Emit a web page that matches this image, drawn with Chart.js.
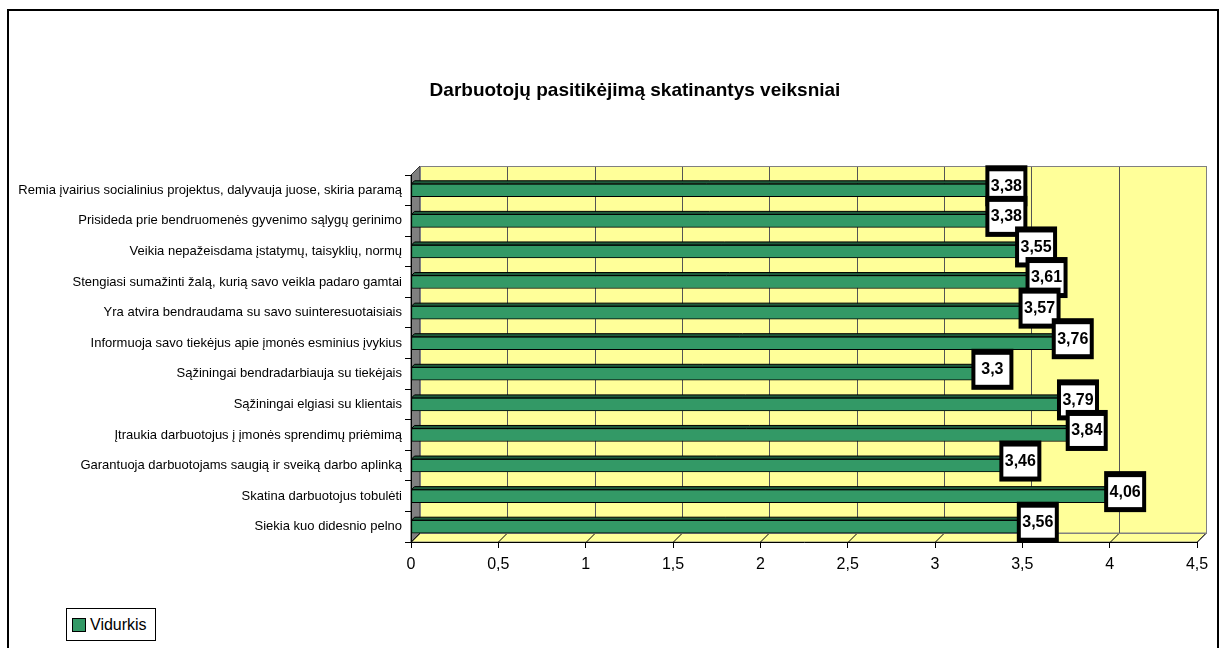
<!DOCTYPE html>
<html>
<head>
<meta charset="utf-8">
<script src="https://cdn.jsdelivr.net/npm/chart.js@4"></script>
<style>
  body { margin: 0; background: #fff; }
  #wrap { position: relative; width: 1224px; height: 648px; overflow: hidden; }
  #frame { position: absolute; left: 7px; top: 9px; width: 1208px; height: 700px; border: 2px solid #000; }
  #legend { position: absolute; left: 66px; top: 608px; width: 88px; height: 31px; border: 1px solid #000;
    font: 16px "Liberation Sans", Arial, sans-serif; display: flex; align-items: center; background: #fff; }
  #legend span.sw { display: inline-block; width: 12px; height: 12px; background: #339966; border: 1px solid #000; margin: 0 4px 0 5px; }
  canvas { position: absolute; left: 0; top: 0; }
</style>
</head>
<body>
<div id="wrap">
  <div id="frame"></div>
  <canvas id="chart" width="1224" height="648"></canvas>
  <div id="legend"><span class="sw"></span>Vidurkis</div>
</div>
<script>
const chartTitle = 'Darbuotojų pasitikėjimą skatinantys veiksniai';
const categories = [
  'Remia įvairius socialinius projektus, dalyvauja juose, skiria paramą',
  'Prisideda prie bendruomenės gyvenimo sąlygų gerinimo',
  'Veikia nepažeisdama įstatymų, taisyklių, normų',
  'Stengiasi sumažinti žalą, kurią savo veikla padaro gamtai',
  'Yra atvira bendraudama su savo suinteresuotaisiais',
  'Informuoja savo tiekėjus apie įmonės esminius įvykius',
  'Sąžiningai bendradarbiauja su tiekėjais',
  'Sąžiningai elgiasi su klientais',
  'Įtraukia darbuotojus į įmonės sprendimų priėmimą',
  'Garantuoja darbuotojams saugią ir sveiką darbo aplinką',
  'Skatina darbuotojus tobulėti',
  'Siekia kuo didesnio pelno'
];
const vidurkis = [3.38, 3.38, 3.55, 3.61, 3.57, 3.76, 3.3, 3.79, 3.84, 3.46, 4.06, 3.56];
const tickValues = [0, 0.5, 1, 1.5, 2, 2.5, 3, 3.5, 4, 4.5];
const tickLabels = ['0', '0,5', '1', '1,5', '2', '2,5', '3', '3,5', '4', '4,5'];

const FONT = '"Liberation Sans", Arial, sans-serif';
const DX = 9, DY = 9; // 3d depth

// title, back wall, left wall, floor and gridlines
const wallsPlugin = {
  id: 'walls',
  beforeDraw(chart) {
    const ctx = chart.ctx;
    const a = chart.chartArea;
    const x = chart.scales.x;
    ctx.save();
    ctx.fillStyle = '#000';
    ctx.font = 'bold 19px ' + FONT;
    ctx.textAlign = 'center';
    ctx.textBaseline = 'middle';
    ctx.fillText(chartTitle, 635, 91);
    // back wall
    ctx.fillStyle = '#ffff99';
    ctx.fillRect(a.left + DX, a.top - DY, a.right - a.left, a.bottom - a.top);
    // floor
    ctx.beginPath();
    ctx.moveTo(a.left, a.bottom);
    ctx.lineTo(a.left + DX, a.bottom - DY);
    ctx.lineTo(a.right + DX, a.bottom - DY);
    ctx.lineTo(a.right, a.bottom);
    ctx.closePath();
    ctx.fill();
    ctx.strokeStyle = '#808080';
    ctx.lineWidth = 1;
    ctx.stroke();
    // left wall
    ctx.fillStyle = '#808080';
    ctx.beginPath();
    ctx.moveTo(a.left, a.top);
    ctx.lineTo(a.left + DX, a.top - DY);
    ctx.lineTo(a.left + DX, a.bottom - DY);
    ctx.lineTo(a.left, a.bottom);
    ctx.closePath();
    ctx.fill();
    ctx.strokeStyle = '#333';
    ctx.stroke();
    // gridlines on back wall + floor diagonals
    tickValues.forEach(v => {
      const px = Math.round(x.getPixelForValue(v)) + 0.5;
      ctx.strokeStyle = '#555';
      ctx.beginPath();
      ctx.moveTo(px + DX, a.top - DY);
      ctx.lineTo(px + DX, a.bottom - DY);
      ctx.stroke();
      ctx.strokeStyle = '#000';
      ctx.beginPath();
      ctx.moveTo(px, a.bottom);
      ctx.lineTo(px + DX, a.bottom - DY);
      ctx.stroke();
    });
    // back wall outline
    ctx.strokeStyle = '#808080';
    ctx.strokeRect(a.left + DX + 0.5, a.top - DY + 0.5, a.right - a.left, a.bottom - a.top);
    ctx.restore();
  }
};

// bar top face and value boxes
const barExtras = {
  id: 'barExtras',
  afterDatasetsDraw(chart) {
    const ctx = chart.ctx;
    const meta = chart.getDatasetMeta(0);
    ctx.save();
    meta.data.forEach(bar => {
      const top = bar.y - bar.height / 2;
      ctx.fillStyle = '#1f5c3d';
      ctx.strokeStyle = '#000';
      ctx.lineWidth = 1;
      ctx.beginPath();
      ctx.moveTo(bar.base, top);
      ctx.lineTo(bar.base + 3, top - 3);
      ctx.lineTo(bar.x + 3, top - 3);
      ctx.lineTo(bar.x, top);
      ctx.closePath();
      ctx.fill();
      ctx.stroke();
    });
    meta.data.forEach((bar, i) => {
      const cx = bar.x + 5;
      const cy = bar.y - 5;
      ctx.fillStyle = '#000';
      ctx.fillRect(cx - 21, cy - 20, 42, 41);
      ctx.fillStyle = '#fff';
      ctx.fillRect(cx - 17, cy - 14, 34, 30);
      ctx.fillStyle = '#000';
      ctx.font = 'bold 16px ' + FONT;
      ctx.textAlign = 'center';
      ctx.textBaseline = 'middle';
      ctx.fillText(String(vidurkis[i]).replace('.', ','), cx, cy + 1);
    });
    ctx.restore();
  }
};

new Chart(document.getElementById('chart'), {
  type: 'bar',
  data: {
    labels: categories,
    datasets: [{
      label: 'Vidurkis',
      data: vidurkis,
      backgroundColor: '#339966',
      borderColor: '#000',
      borderWidth: 1,
      borderSkipped: false,
      barThickness: 13
    }]
  },
  options: {
    indexAxis: 'y',
    responsive: false,
    animation: false,
    devicePixelRatio: 1,
    layout: { padding: { left: 0, right: 27, top: 175, bottom: 0 } },
    plugins: {
      legend: { display: false },
      tooltip: { enabled: false },
      title: { display: false }
    },
    scales: {
      x: {
        min: 0,
        max: 4.5,
        afterBuildTicks(scale) {
          scale.ticks = tickValues.map(v => ({ value: v }));
        },
        afterFit(scale) { scale.height = 106; },
        ticks: {
          color: '#000',
          font: { family: FONT, size: 16 },
          padding: 7,
          maxRotation: 0,
          callback: (v, i) => tickLabels[i]
        },
        grid: { drawOnChartArea: false, color: '#000', tickColor: '#000', tickLength: 6 },
        border: { display: true, color: '#000', width: 1 }
      },
      y: {
        afterFit(scale) { scale.width = 411; },
        ticks: {
          color: '#000',
          font: { family: FONT, size: 13 },
          padding: 3,
          autoSkip: false
        },
        grid: { drawOnChartArea: false, color: '#000', tickColor: '#000', tickLength: 6, offset: true },
        border: { display: true, color: '#000', width: 1 }
      }
    }
  },
  plugins: [wallsPlugin, barExtras]
});
</script>
</body>
</html>
